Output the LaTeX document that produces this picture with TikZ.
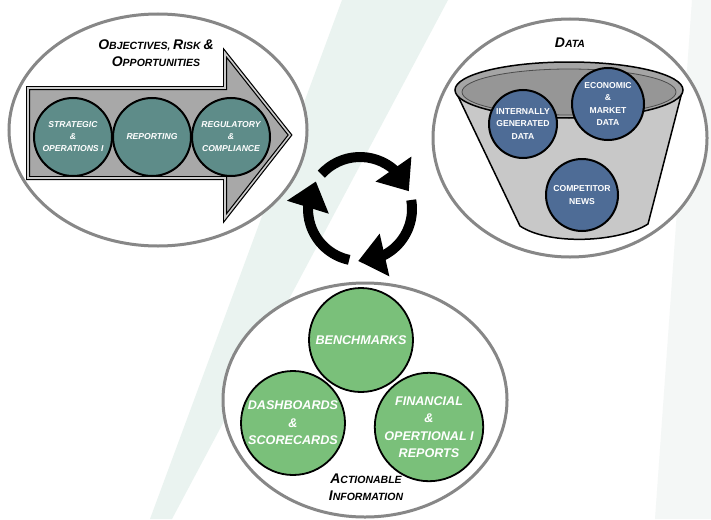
\documentclass[tikz,border=0pt]{standalone}
\usepackage{fontspec}
\setmainfont{Liberation Sans}
\usetikzlibrary{shapes.geometric,arrows.meta,bending}
\definecolor{bgband}{RGB}{234,243,240}
\definecolor{bgband2}{RGB}{244,247,246}
\definecolor{ringgray}{RGB}{135,135,135}
\definecolor{tealc}{RGB}{94,140,137}
\definecolor{bluec}{RGB}{78,108,150}
\definecolor{greenc}{RGB}{122,192,122}
\definecolor{arrowgray}{RGB}{168,168,168}
\definecolor{conegray}{RGB}{200,200,200}
\definecolor{rimgray}{RGB}{165,165,165}
\definecolor{rimin}{RGB}{150,150,150}
\newcommand{\scw}[2]{{\fontsize{14}{16}\selectfont #1}{\fontsize{10.5}{16}\selectfont #2}}
\tikzset{
  ring/.style={ellipse, draw=ringgray, line width=3pt, fill=white, inner sep=0pt},
  tealball/.style={circle, draw=black, line width=2pt, fill=tealc, minimum size=78pt, inner sep=0pt,
     text=white, align=center, font=\fontsize{8.6}{12}\selectfont\bfseries\itshape},
  blueball/.style={circle, draw=black, line width=2pt, fill=bluec, inner sep=0pt,
     text=white, align=center, font=\fontsize{8.6}{12.5}\selectfont\bfseries},
  greenball/.style={circle, draw=black, line width=1.8pt, fill=greenc, minimum size=104pt, inner sep=0pt,
     text=white, align=center, font=\fontsize{12.6}{17.5}\selectfont\bfseries\itshape},
  title/.style={align=center, font=\bfseries\itshape},
  cyc/.style={line width=10pt, -{Triangle[length=27pt,width=42pt,flex]}}
}
\begin{document}
\begin{tikzpicture}[x=1pt,y=-1pt]
\useasboundingbox (0,0) rectangle (711,519);
\fill[white] (0,0) rectangle (711,519);
% faint background bands
\fill[bgband] (342,0) -- (448,0) -- (172,519) -- (150,519) -- cycle;
\fill[bgband2] (692,0) -- (711,0) -- (711,519) -- (655,519) -- cycle;

% ---------- left: objectives ----------
\node[ring, minimum width=298pt, minimum height=232pt] (obj) at (158,130) {};
\draw[line width=1.2pt, draw=black, double=arrowgray!60, double distance=1.6pt, fill=arrowgray]
  (28,88) -- (225,88) -- (225,53) -- (290,135) -- (225,218) -- (225,178) -- (28,178) -- cycle;
\node[title] (objt) at (156,53) {\scw{O}{BJECTIVES}, \scw{R}{ISK} {\fontsize{14}{16}\selectfont\&}\\[5pt]\scw{O}{PPORTUNITIES}};
\node[tealball] (strat) at (73,137) {STRATEGIC\\\&\\OPERATIONS I};
\node[tealball] (rep) at (152,137) {REPORTING};
\node[tealball] (reg) at (231,137) {REGULATORY\\\&\\COMPLIANCE};

% ---------- right: data ----------
\node[ring, minimum width=274pt, minimum height=238pt] (data) at (570,138) {};
\node[title] (datat) at (570,43) {\scw{D}{ATA}};
\draw[line width=1.5pt, fill=conegray] (456,92) -- (520,226)
   .. controls (550,246) and (620,242) .. (648,224) -- (682,92) -- cycle;
\node[ellipse, draw=black, line width=1.5pt, fill=rimgray, minimum width=228pt, minimum height=56pt, inner sep=0pt] (rim) at (569,90) {};
\node[ellipse, draw=black!70, line width=0.8pt, fill=rimin, minimum width=214pt, minimum height=46pt, inner sep=0pt] (rimin) at (569,92) {};
\node[blueball, minimum size=68pt] (intern) at (523,124) {INTERNALLY\\GENERATED\\DATA};
\node[blueball, minimum size=72pt] (econ) at (608,104) {ECONOMIC\\\&\\MARKET\\DATA};
\node[blueball, minimum size=72pt] (comp) at (582,195) {COMPETITOR\\NEWS};

% ---------- bottom: actionable information ----------
\node[ring, minimum width=284pt, minimum height=234pt] (act) at (365,400) {};
\node[greenball] (bench) at (361,340) {BENCHMARKS};
\node[greenball] (dash) at (293,423) {DASHBOARDS\\\&\\SCORECARDS};
\node[greenball] (fin) at (429,427) {FINANCIAL\\\&\\OPERTIONAL I\\REPORTS};
\node[title] (actt) at (366,487) {\scw{A}{CTIONABLE}\\[5pt]\scw{I}{NFORMATION}};

% ---------- cycle arrows ----------
\coordinate (cc) at (360,209);
\draw[cyc] (cc) ++(-138:52) arc[start angle=-138, end angle=-20, radius=52];
\draw[cyc] (cc) ++(-10:52) arc[start angle=-10, end angle=92, radius=52];
\draw[cyc] (cc) ++(102:52) arc[start angle=102, end angle=212, radius=52];
\end{tikzpicture}
\end{document}
